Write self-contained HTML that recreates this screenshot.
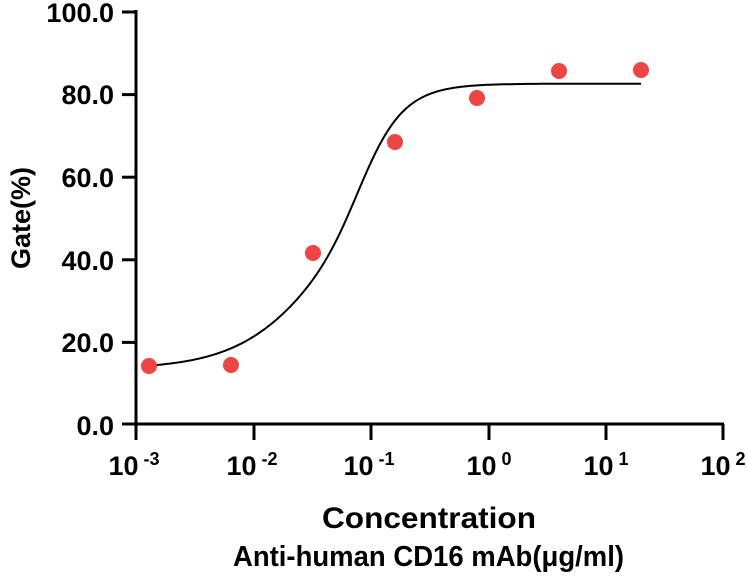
<!DOCTYPE html><html><head><style>body{margin:0;background:#fff}svg{font-family:"Liberation Sans",sans-serif;font-weight:bold}</style></head><body>
<svg id="s" width="747" height="577" viewBox="0 0 747 577">
<g stroke="#000" stroke-width="3" fill="none">
<line x1="136" y1="10" x2="136" y2="425"/>
<line x1="122" y1="424" x2="724" y2="424"/>
<line x1="122" y1="12" x2="136" y2="12"/>
<line x1="122" y1="94.6" x2="136" y2="94.6"/>
<line x1="122" y1="177.2" x2="136" y2="177.2"/>
<line x1="122" y1="259.8" x2="136" y2="259.8"/>
<line x1="122" y1="342.4" x2="136" y2="342.4"/>
<line x1="136" y1="424" x2="136" y2="440"/>
<line x1="254" y1="424" x2="254" y2="440"/>
<line x1="371" y1="424" x2="371" y2="440"/>
<line x1="489" y1="424" x2="489" y2="440"/>
<line x1="606" y1="424" x2="606" y2="440"/>
<line x1="723" y1="424" x2="723" y2="440"/>
</g>
<g font-size="27" text-anchor="end">
<text x="114" y="22">100.0</text><text x="114" y="104">80.0</text><text x="114" y="187">60.0</text><text x="114" y="270">40.0</text><text x="114" y="352">20.0</text><text x="114" y="435">0.0</text>
</g>
<g font-size="27" text-anchor="middle">
<text x="134" y="475">10<tspan dy="-10" font-size="18"> -3</tspan></text>
<text x="252" y="475">10<tspan dy="-10" font-size="18"> -2</tspan></text>
<text x="369" y="475">10<tspan dy="-10" font-size="18"> -1</tspan></text>
<text x="489" y="475">10<tspan dy="-10" font-size="18"> 0</tspan></text>
<text x="606" y="475">10<tspan dy="-10" font-size="18"> 1</tspan></text>
<text x="723" y="475">10<tspan dy="-10" font-size="18"> 2</tspan></text>
</g>
<text x="322" y="528" font-size="30" textLength="214" lengthAdjust="spacingAndGlyphs">Concentration</text>
<text x="233" y="566" font-size="29" textLength="391" lengthAdjust="spacingAndGlyphs">Anti-human CD16 mAb(μg/ml)</text>
<text transform="translate(30,218) rotate(-90)" font-size="27" text-anchor="middle">Gate(%)</text>
<path id="c" fill="none" stroke="#000" stroke-width="2"/>
<g fill="#ef4444">
<circle cx="149" cy="366" r="8"/><circle cx="231" cy="365" r="8"/><circle cx="313" cy="253" r="8"/><circle cx="395" cy="142" r="8"/><circle cx="477" cy="98" r="8"/><circle cx="559" cy="71" r="8"/><circle cx="641" cy="70" r="8"/>
</g>
</svg>
<script>
var d="";for(var x=149;x<=641;x+=1){var lx=-3+(x-136)/117.4;var m=-1.237;var h=1.55+0.4*Math.tanh((lx-m)*2.5);var v=13.3+(82.6-13.3)/(1+Math.pow(10,(m-lx)*h));var y=424-v*4.12;d+=(d?"L":"M")+x+","+y.toFixed(1);}
document.getElementById("c").setAttribute("d",d);
</script>
</body></html>
